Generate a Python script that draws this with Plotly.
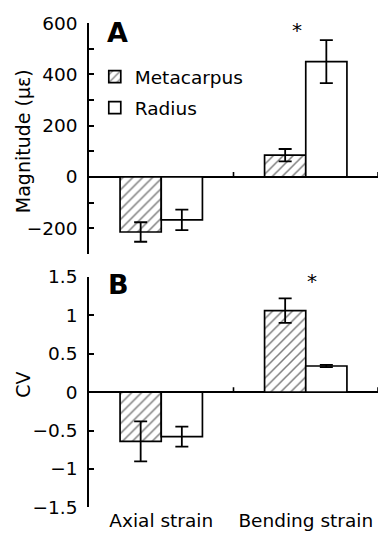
import plotly.graph_objects as go

# ---- data ----
categories = ["Axial strain", "Bending strain"]
series_names = ["Metacarpus", "Radius"]

# Panel A: magnitude (microstrain)
mag_metacarpus = [-215, 85]
mag_metacarpus_err = [38, 24]
mag_radius = [-168, 450]
mag_radius_err = [40, 84]

# Panel B: coefficient of variation
cv_metacarpus = [-0.64, 1.06]
cv_metacarpus_err = [0.26, 0.16]
cv_radius = [-0.58, 0.34]
cv_radius_err = [0.13, 0.015]

# significance markers (category, y)
sig_A = ("Bending strain", 575)
sig_B = ("Bending strain", 1.44)

magnitude_ticks = [-200, 0, 200, 400, 600]
cv_ticks = [-1.5, -1, -0.5, 0, 0.5, 1, 1.5]

FONT = "DejaVu Sans"
W, H = 380, 535
L, R = 89, 2
PW = W - L - R

fig = go.Figure()

hatch = dict(shape="/", fgcolor="black", bgcolor="white", size=7, solidity=0.22)
err_style = dict(type="data", color="black", thickness=1.8, width=6.5, visible=True)
line_style = dict(color="black", width=1.7)

fig.add_trace(go.Bar(x=categories, y=mag_metacarpus, name=series_names[0],
                     marker=dict(color="white", pattern=hatch, line=line_style),
                     error_y=dict(array=mag_metacarpus_err, **err_style),
                     xaxis="x", yaxis="y", legendgroup="m"))
fig.add_trace(go.Bar(x=categories, y=mag_radius, name=series_names[1],
                     marker=dict(color="white", line=line_style),
                     error_y=dict(array=mag_radius_err, **err_style),
                     xaxis="x", yaxis="y", legendgroup="r"))
fig.add_trace(go.Bar(x=categories, y=cv_metacarpus, name=series_names[0],
                     marker=dict(color="white", pattern=hatch, line=line_style),
                     error_y=dict(array=cv_metacarpus_err, **err_style),
                     xaxis="x2", yaxis="y2", showlegend=False, legendgroup="m"))
fig.add_trace(go.Bar(x=categories, y=cv_radius, name=series_names[1],
                     marker=dict(color="white", line=line_style),
                     error_y=dict(array=cv_radius_err, **err_style),
                     xaxis="x2", yaxis="y2", showlegend=False, legendgroup="r"))

def py2paper(py):
    return 1 - py / H

def px2paper(px):
    return (px - L) / PW

dom_A = [py2paper(252.7), py2paper(12.7)]
dom_B = [py2paper(516.7), py2paper(276.7)]

common_y = dict(showline=True, linecolor="black", linewidth=1.6, ticks="inside",
                ticklen=5, tickwidth=1.6, tickcolor="black", showgrid=False,
                zeroline=True, zerolinecolor="black", zerolinewidth=1.6,
                tickfont=dict(family=FONT, size=18.5, color="black"),
                ticklabelstandoff=6)

fig.update_layout(
    width=W, height=H,
    margin=dict(l=L, r=R, t=0, b=0, pad=0),
    paper_bgcolor="white", plot_bgcolor="white",
    barmode="group", bargap=0.43, bargroupgap=0,
    font=dict(family=FONT, size=18, color="black"),
    xaxis=dict(domain=[0, 1], anchor="y", range=[-0.5, 1.5], showticklabels=False,
               ticks="", showline=False, showgrid=False, zeroline=False),
    xaxis2=dict(domain=[0, 1], anchor="y2", range=[-0.5, 1.5], ticks="",
                showline=False, showgrid=False, zeroline=False,
                tickfont=dict(family=FONT, size=18.5, color="black")),
    yaxis=dict(domain=dom_A, range=[-300, 600], tickvals=magnitude_ticks,
               minor=dict(dtick=100, ticks="inside", ticklen=5, tickwidth=1.6,
                          tickcolor="black", showgrid=False),
               **common_y),
    yaxis2=dict(domain=dom_B, range=[-1.5, 1.5], tickvals=cv_ticks, **common_y),
    legend=dict(x=0.02, xanchor="left", y=py2paper(49), yanchor="top",
                bgcolor="rgba(0,0,0,0)", font=dict(family=FONT, size=18.5),
                traceorder="grouped", tracegroupgap=4, itemwidth=30),
    showlegend=True,
)

# category-boundary ticks on the zero line (pointing up)
shapes = []
for xref, yref in (("x", "y"), ("x2", "y2")):
    for i in range(len(categories)):
        b = i + 0.5
        shapes.append(dict(type="line", xref=xref, yref=yref, x0=b, x1=b,
                           ysizemode="pixel", yanchor=0, y0=0, y1=5,
                           line=dict(color="black", width=1.6)))
fig.update_layout(shapes=shapes)

annotations = [
    dict(text="Magnitude (\u03bc\u03b5)", xref="paper", yref="paper",
         x=px2paper(22.5), y=py2paper(136), textangle=-90, showarrow=False,
         font=dict(family=FONT, size=19), xanchor="center", yanchor="middle"),
    dict(text="CV", xref="paper", yref="paper",
         x=px2paper(23), y=py2paper(389), textangle=-90, showarrow=False,
         font=dict(family=FONT, size=19), xanchor="center", yanchor="middle"),
    dict(text="<b>A</b>", xref="paper", yref="paper", x=px2paper(117.5),
         y=py2paper(22), showarrow=False, font=dict(family=FONT, size=27),
         xanchor="center", yanchor="middle"),
    dict(text="<b>B</b>", xref="paper", yref="paper", x=px2paper(118),
         y=py2paper(285), showarrow=False, font=dict(family=FONT, size=27),
         xanchor="center", yanchor="middle"),
    dict(text="*", xref="x", yref="y", x=sig_A[0], y=sig_A[1], xshift=-9,
         showarrow=False, font=dict(family=FONT, size=20), yanchor="middle"),
    dict(text="*", xref="x2", yref="y2", x=sig_B[0], y=sig_B[1], xshift=6,
         showarrow=False, font=dict(family=FONT, size=20), yanchor="middle"),
]
fig.update_layout(annotations=annotations)

fig.write_html("out.html")
